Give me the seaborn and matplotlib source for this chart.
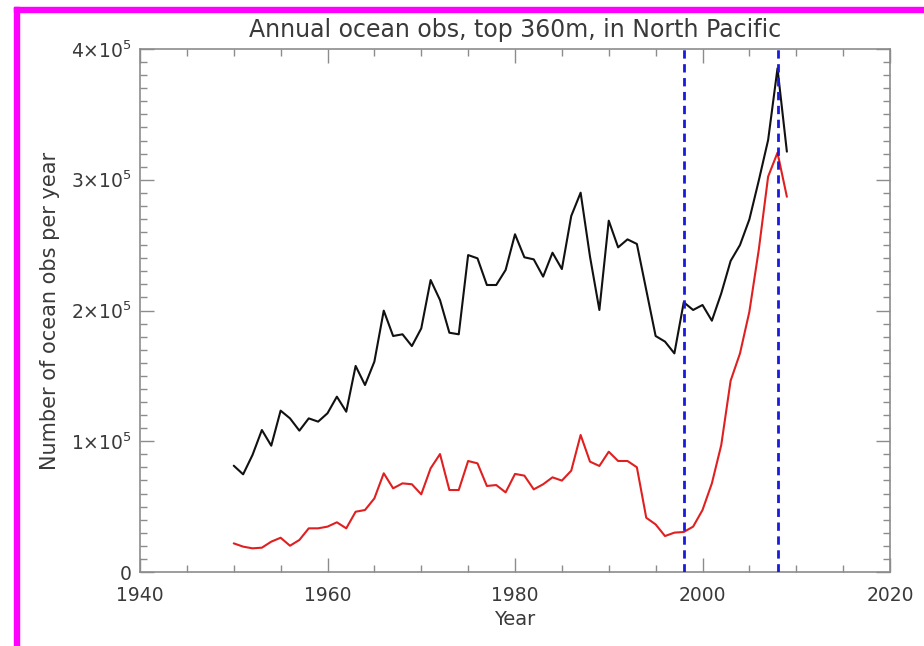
import matplotlib
matplotlib.use("Agg")
import matplotlib.pyplot as plt
import matplotlib.patches as mpatches
from matplotlib.ticker import MultipleLocator, FuncFormatter
import seaborn as sns
import pandas as pd

# ---- data ----
years = list(range(1950, 2010))
black_obs = [81300, 74700, 89500, 108600, 96600, 123400, 117500, 108100, 117500, 115000,
             121400, 134100, 122600, 157600, 143000, 160900, 199900, 180500, 181800, 172800,
             186300, 223300, 208000, 183000, 181800, 242400, 239900, 219500, 219500, 231000,
             258300, 240700, 239100, 225900, 244200, 231700, 272300, 290100, 241200, 200400,
             268700, 248300, 254400, 250900, 215700, 180500, 176200, 167200, 206300, 200400,
             204200, 192200, 213100, 237900, 250100, 269700, 299300, 330400, 385200, 321500]
red_obs = [21900, 19400, 18100, 18600, 23200, 26200, 20100, 24500, 33400, 33400,
           34700, 38000, 33400, 46100, 47400, 56300, 75500, 64000, 67800, 67100,
           59400, 79300, 90200, 62700, 62700, 84900, 83100, 65800, 66500, 60900,
           75000, 73700, 63200, 67100, 72400, 69900, 77500, 104800, 84400, 81100,
           92000, 84900, 84900, 80100, 41500, 36400, 27500, 30100, 30600, 34700,
           47400, 67800, 97100, 146300, 167200, 199100, 246300, 302400, 320700, 287000]
vline_years = [1998, 2008]
title = "Annual ocean obs, top 360m, in North Pacific"
xlabel = "Year"
ylabel = "Number of ocean obs per year"

df = pd.DataFrame({"year": years + years,
                   "obs": black_obs + red_obs,
                   "series": ["black"] * len(years) + ["red"] * len(years)})

sns.set_style("ticks")
plt.rcParams["font.family"] = ["DejaVu Sans"]
plt.rcParams["mathtext.default"] = "regular"

text_color = "#3a3a3a"
axis_color = "#8c8c8c"

fig = plt.figure(figsize=(9.24, 6.46), dpi=100)
ax = fig.add_axes([140 / 924, 1 - 572 / 646, 750 / 924, 523 / 646])

sns.lineplot(data=df, x="year", y="obs", hue="series",
             palette={"black": "#111111", "red": "#e02020"},
             linewidth=1.5, legend=False, ax=ax)

for vx in vline_years:
    ax.axvline(vx, color="#1a1adc", linestyle=(0, (3, 2)), linewidth=2.0, zorder=3)

ax.set_xlim(1940, 2020)
ax.set_ylim(0, 400000)
ax.xaxis.set_major_locator(MultipleLocator(20))
ax.xaxis.set_minor_locator(MultipleLocator(5))
ax.yaxis.set_major_locator(MultipleLocator(100000))
ax.yaxis.set_minor_locator(MultipleLocator(10000))


def yfmt(v, pos):
    n = int(round(v / 100000))
    if n == 0:
        return "0"
    return r"$%d{\times}10^5$" % n


ax.yaxis.set_major_formatter(FuncFormatter(yfmt))

ax.tick_params(which="both", direction="in", top=True, right=True, color=axis_color,
               labelcolor=text_color, labelsize=13.5)
ax.tick_params(which="major", length=10, width=1.0)
ax.tick_params(which="minor", length=5, width=1.0)
ax.tick_params(axis="x", pad=10)
ax.tick_params(axis="y", pad=6)
for sp in ax.spines.values():
    sp.set_visible(True)
    sp.set_color(axis_color)
    sp.set_linewidth(1.2)

ax.set_title(title, fontsize=17, color=text_color, pad=9)
ax.set_xlabel(xlabel, fontsize=14, color=text_color, labelpad=4)
ax.set_ylabel(ylabel, fontsize=15, color=text_color, labelpad=8)

# magenta frame (top and left edges of the original screenshot)
fig.patches.append(mpatches.Rectangle((14 / 924, 1 - 12 / 646), 1 - 14 / 924, 5 / 646,
                                      transform=fig.transFigure, color="#ff00ff",
                                      zorder=10))
fig.patches.append(mpatches.Rectangle((14 / 924, 0), 5 / 924, 1 - 7 / 646,
                                      transform=fig.transFigure, color="#ff00ff",
                                      zorder=10))

fig.savefig("out.png", dpi=100)
